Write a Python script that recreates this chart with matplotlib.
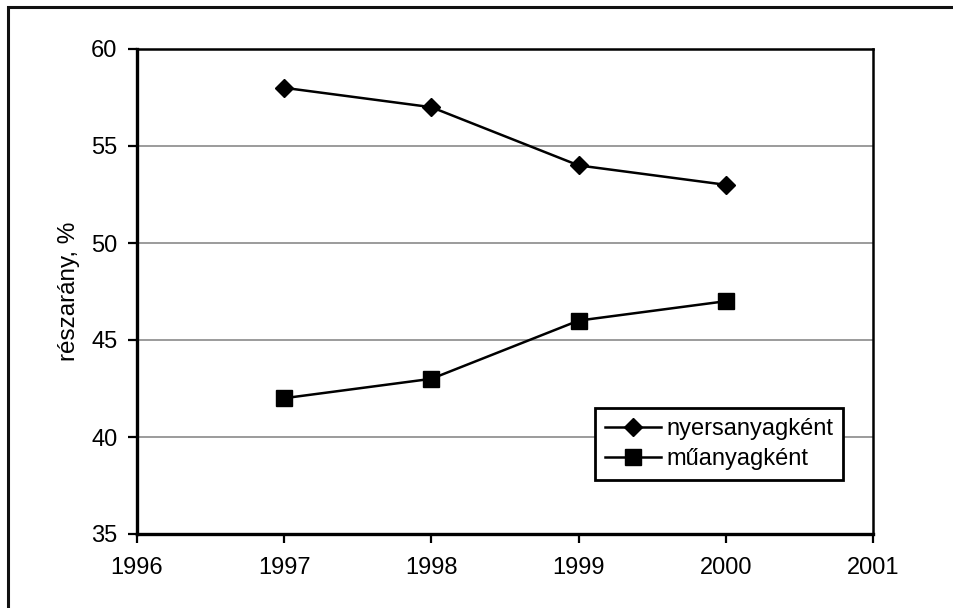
import matplotlib.pyplot as plt
from matplotlib.patches import Rectangle

plt.rcParams['font.family'] = ['Liberation Sans', 'DejaVu Sans']

years = [1997, 1998, 1999, 2000]
nyersanyag = [58, 57, 54, 53]
muanyag = [42, 43, 46, 47]

fig = plt.figure(figsize=(9.54, 6.08), dpi=100)
ax = fig.add_axes([137/954, 74/608, 736/954, 485/608])

# keret az abra korul (jobb es also szele kilog)
fig.patches.append(Rectangle((8/954, -0.5), 2, 1.5 - 7/608, transform=fig.transFigure,
                             fill=False, edgecolor='#111111', linewidth=2.2))

ax.plot(years, nyersanyag, color='black', linewidth=1.8, marker='D', markersize=9.5,
        label='nyersanyagként')
ax.plot(years, muanyag, color='black', linewidth=1.8, marker='s', markersize=11,
        label='műanyagként')

ax.set_xlim(1996, 2001)
ax.set_ylim(35, 60)
ax.set_xticks(range(1996, 2002))
ax.set_yticks(range(35, 61, 5))
ax.yaxis.grid(True, color='#808080', linewidth=1.1)
ax.set_axisbelow(True)
for s in ['left', 'bottom']:
    ax.spines[s].set_linewidth(2.4)
for s in ['top', 'right']:
    ax.spines[s].set_linewidth(1.8)
ax.tick_params(direction='out', length=6.5, width=1.6, labelsize=17)
ax.tick_params(axis='x', pad=10)
ax.tick_params(axis='y', pad=7.5)
ax.set_ylabel('részarány, %', fontsize=17.5, labelpad=8)

leg = ax.legend(loc='lower right', bbox_to_anchor=(843/954, 128/608),
                bbox_transform=fig.transFigure, fontsize=17, frameon=True,
                fancybox=False, edgecolor='black', framealpha=1,
                borderpad=0.42, labelspacing=0.35, handlelength=2.4,
                handletextpad=0.2, borderaxespad=0)
leg.get_frame().set_linewidth(2)

fig.savefig('out.png', dpi=100)
